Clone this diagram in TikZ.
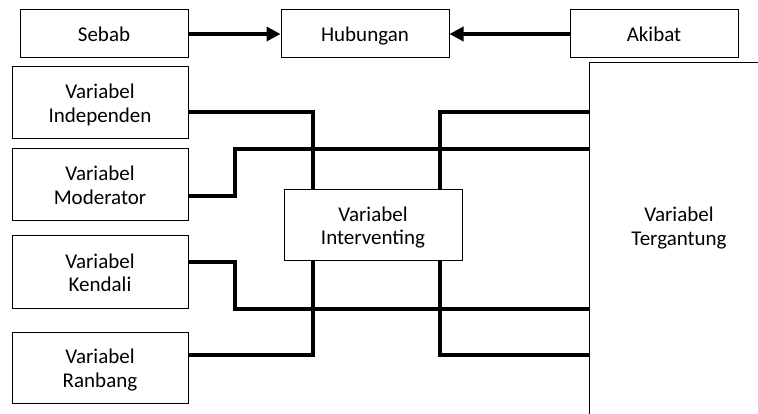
\documentclass[tikz,border=0pt]{standalone}
\usepackage{fontspec}
\setmainfont{Carlito}
\usetikzlibrary{arrows.meta}
\begin{document}
\begin{tikzpicture}[x=1pt,y=-1pt,
  label text/.style={align=center,inner sep=0pt,font=\fontsize{21}{23.5}\selectfont,
    text height=44pt,text depth=5pt},
  box/.style={label text,draw,line width=1pt},
  topbox/.style={draw,line width=1pt,inner sep=0pt,font=\fontsize{21}{23.5}\selectfont,
    text height=15.5pt,text depth=0pt,minimum width=168pt,minimum height=48pt},
  varbox/.style={box,minimum width=176pt,minimum height=72pt},
  conn/.style={line width=3.5pt},
  arr/.style={conn,-{Triangle[length=14pt,width=14pt]}}]
\useasboundingbox (0,0) rectangle (758,414);
\clip (0,0) rectangle (758,414);

% top row: cause -> relation <- effect
\node[topbox] (sebab) at (104,34) {Sebab};
\node[topbox] (hub) at (365,34) {Hubungan};
\node[topbox] (akibat) at (654,34) {Akibat};
\draw[arr] (sebab) -- (hub);
\draw[arr] (akibat) -- (hub);

% left column of variables
\node[varbox] (ind) at (100,103) {Variabel\\Independen};
\node[varbox] (mod) at (100,185) {Variabel\\Moderator};
\node[varbox] (ken) at (100,272) {Variabel\\Kendali};
\node[varbox,minimum height=71pt] (ran) at (100,367.5) {Variabel\\Ranbang};

% intervening variable in the middle
\node[box,minimum width=178pt,minimum height=71pt] (intv) at (373,225.5) {Variabel\\Interventing};

% dependent variable: open box running off the right and bottom edges
\node[draw,line width=1pt,minimum width=220pt,minimum height=400pt,anchor=north west] (tg) at (589,62) {};
\node[label text] (tglabel) at (679,226) {Variabel\\Tergantung};

% connectors
\draw[conn] (ind.east |- 0,112) -| (313,0 |- intv.north);
\draw[conn] (mod.east |- 0,196) -- (235,196) |- (tg.west |- 0,149);
\draw[conn] (ken.east |- 0,262) -- (235,262) |- (tg.west |- 0,309);
\draw[conn] (ran.east |- 0,355) -| (313,0 |- intv.south);
\draw[conn] (440,0 |- intv.north) |- (tg.west |- 0,112);
\draw[conn] (440,0 |- intv.south) |- (tg.west |- 0,355);
\end{tikzpicture}
\end{document}
